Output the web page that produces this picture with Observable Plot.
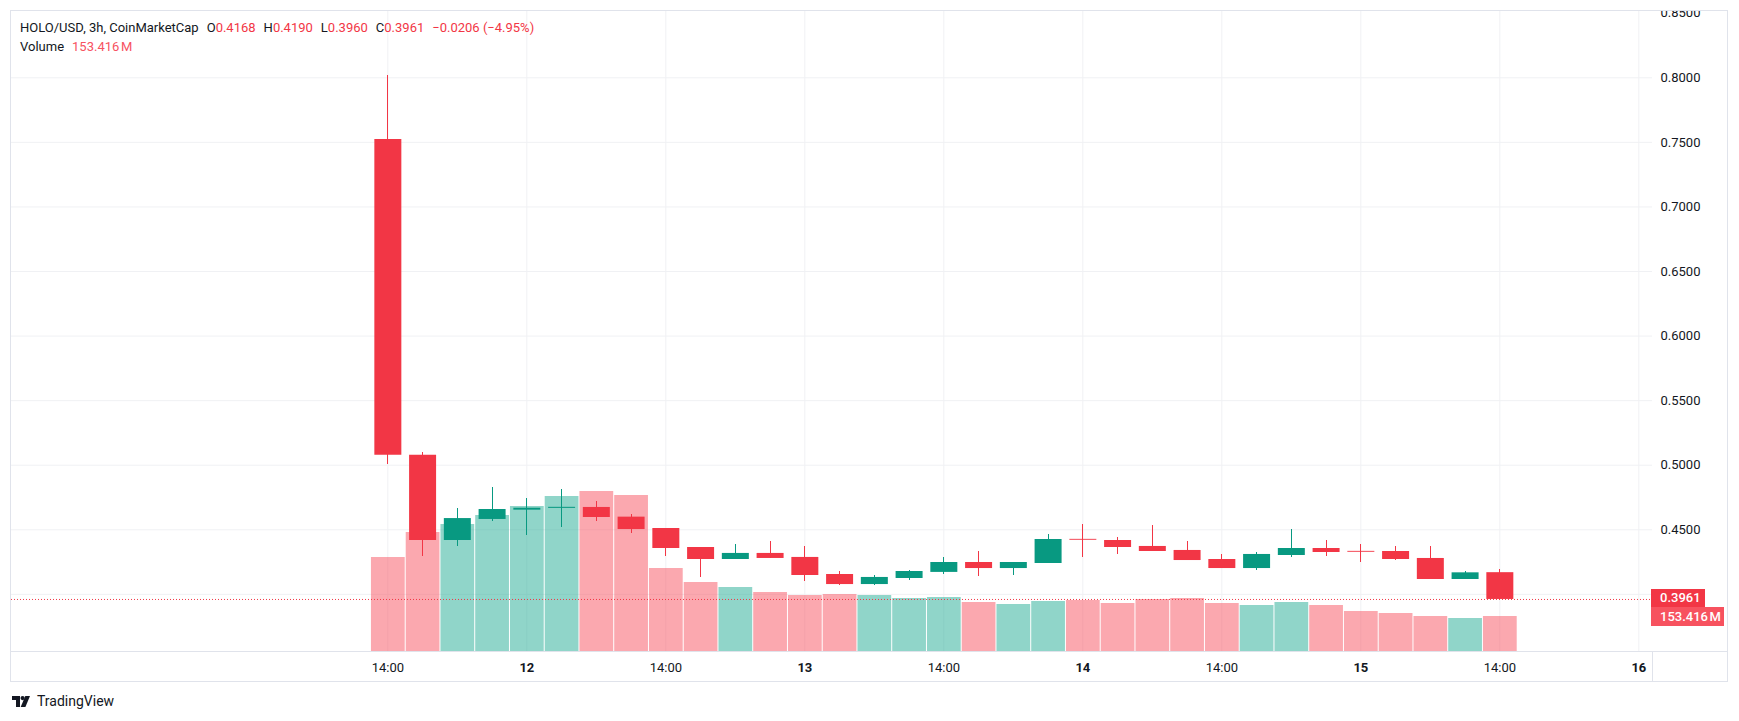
<!DOCTYPE html>
<html>
<head>
<meta charset="utf-8">
<script src="https://cdn.jsdelivr.net/npm/d3@7"></script>
<script src="https://cdn.jsdelivr.net/npm/@observablehq/plot@0.6"></script>
<style>
  body { margin: 0; background: #fff; font-family: Roboto, sans-serif; color: #131722; }
  #wrap { position: relative; width: 1739px; height: 690px; overflow: hidden; }
  .layer { position: absolute; left: 0; top: 11px; }
  .layer svg { overflow: hidden; display: block; }
  #frame { position: absolute; left: 10px; top: 10px; width: 1718px; height: 672px;
           box-sizing: border-box; border: 1px solid #e0e3eb; pointer-events: none; }
  .sep { position: absolute; background: #e0e3eb; }
  .legend { position: absolute; left: 20px; font-size: 13px; line-height: 18px; white-space: pre; }
  .legend .v { color: #F23645; }
  .legend .k { margin-left: 8px; }
  .tag { position: absolute; left: 1651px; color: #fff; font-size: 13px; font-weight: 500;
         padding-left: 9px; box-sizing: border-box; }
  #footer { position: relative; width: 1739px; height: 31px; }
  #logo { position: absolute; left: 12px; top: 3px; display: flex; align-items: center; gap: 7px;
          font-size: 14px; color: #131722; }
</style>
</head>
<body>
<div id="wrap">
  <div id="layers"></div>
  <div class="sep" style="left:11px; top:651px; width:1716px; height:1px;"></div>
  <div class="sep" style="left:1652px; top:651px; width:1px; height:30px;"></div>
  <div id="frame"></div>
  <div id="legend1" class="legend" style="top:19px;"></div>
  <div id="legend2" class="legend" style="top:38px;"></div>
</div>
<div id="footer">
  <div id="logo">
    <svg width="18" height="11" viewBox="0 0 18 11">
      <path d="M0 0H8V11H4V4H0Z" fill="#131722"/>
      <circle cx="10.6" cy="2.1" r="2.1" fill="#131722"/>
      <path d="M13.3 0H18L13.4 11H8.7Z" fill="#131722"/>
    </svg>
    <span>TradingView</span>
  </div>
</div>
<script>
// HOLO/USD 3h candles (CoinMarketCap), local time
const times = [
  "2025-09-11T14:00", "2025-09-11T17:00", "2025-09-11T20:00", "2025-09-11T23:00",
  "2025-09-12T02:00", "2025-09-12T05:00", "2025-09-12T08:00", "2025-09-12T11:00",
  "2025-09-12T14:00", "2025-09-12T17:00", "2025-09-12T20:00", "2025-09-12T23:00",
  "2025-09-13T02:00", "2025-09-13T05:00", "2025-09-13T08:00", "2025-09-13T11:00",
  "2025-09-13T14:00", "2025-09-13T17:00", "2025-09-13T20:00", "2025-09-13T23:00",
  "2025-09-14T02:00", "2025-09-14T05:00", "2025-09-14T08:00", "2025-09-14T11:00",
  "2025-09-14T14:00", "2025-09-14T17:00", "2025-09-14T20:00", "2025-09-14T23:00",
  "2025-09-15T02:00", "2025-09-15T05:00", "2025-09-15T08:00", "2025-09-15T11:00",
  "2025-09-15T14:00"
];
const open = [
  0.7522, 0.5078, 0.4417, 0.4580, 0.4652, 0.4666, 0.4673, 0.4598,
  0.4510, 0.4363, 0.4270, 0.4317, 0.4286, 0.4154, 0.4076, 0.4123,
  0.4170, 0.4247, 0.4200, 0.4239, 0.4426, 0.4417, 0.4371, 0.4340,
  0.4270, 0.4200, 0.4301, 0.4355, 0.4333, 0.4332, 0.4278, 0.4115,
  0.4168
];
const high = [
  0.8018, 0.5099, 0.4665, 0.4828, 0.4742, 0.4812, 0.4719, 0.4619,
  0.4512, 0.4365, 0.4387, 0.4410, 0.4371, 0.4177, 0.4146, 0.4185,
  0.4286, 0.4332, 0.4247, 0.4464, 0.4541, 0.4440, 0.4533, 0.4410,
  0.4309, 0.4324, 0.4502, 0.4417, 0.4387, 0.4371, 0.4371, 0.4177,
  0.4190
];
const low = [
  0.5008, 0.4293, 0.4371, 0.4564, 0.4458, 0.4518, 0.4564, 0.4471,
  0.4293, 0.4131, 0.4270, 0.4278, 0.4100, 0.4069, 0.4069, 0.4108,
  0.4154, 0.4139, 0.4146, 0.4239, 0.4286, 0.4309, 0.4332, 0.4262,
  0.4200, 0.4185, 0.4286, 0.4293, 0.4247, 0.4262, 0.4115, 0.4115,
  0.3960
];
const close = [
  0.5078, 0.4417, 0.4587, 0.4657, 0.4667, 0.4674, 0.4595, 0.4502,
  0.4355, 0.4270, 0.4317, 0.4278, 0.4146, 0.4076, 0.4131, 0.4177,
  0.4247, 0.4200, 0.4247, 0.4425, 0.4419, 0.4363, 0.4332, 0.4262,
  0.4200, 0.4309, 0.4355, 0.4324, 0.4326, 0.4270, 0.4115, 0.41668,
  0.39606
];
// volume, millions
const volume = [
  412, 522, 557, 596, 636, 680, 701, 684,
  364, 302, 281, 259, 245, 250, 245, 232,
  237, 215, 206, 219, 224, 210, 228, 232,
  210, 202, 215, 202, 175, 167, 153, 145,
  153.416
];
// time axis labels
const hourTickTimes = ["2025-09-11T14:00", "2025-09-12T14:00", "2025-09-13T14:00", "2025-09-14T14:00", "2025-09-15T14:00"];
const hourTickLabels = ["14:00", "14:00", "14:00", "14:00", "14:00"];
const dayTickTimes = ["2025-09-12T02:00", "2025-09-13T02:00", "2025-09-14T02:00", "2025-09-15T02:00", "2025-09-16T02:00"];
const dayTickLabels = ["12", "13", "14", "15", "16"];
// price axis
const priceTicks = [0.45, 0.50, 0.55, 0.60, 0.65, 0.70, 0.75, 0.80, 0.85];
const priceGrid = [0.40, 0.45, 0.50, 0.55, 0.60, 0.65, 0.70, 0.75, 0.80];

const UP = "#089981", DOWN = "#F23645", VOL_UP = "#22AB94", VOL_DOWN = "#F7525F";
const toDate = s => new Date(s + ":00Z");
const candles = times.map((s, i) => ({
  t: toDate(s), open: open[i], high: high[i], low: low[i], close: close[i],
  volume: volume[i], up: close[i] >= open[i]
}));
const last = candles[candles.length - 1];
const prev = candles[candles.length - 2];

const HOUR = 3600e3;
const t0 = candles[0].t.getTime();
const xDomain = [new Date(t0 - 32.49 * HOUR), new Date(t0 + 109.18 * HOUR)];

const hourTicks = hourTickTimes.map(toDate);
const dayTicks = dayTickTimes.map(toDate);
const tickLabel = new Map([
  ...hourTicks.map((d, i) => [+d, hourTickLabels[i]]),
  ...dayTicks.map((d, i) => [+d, dayTickLabels[i]])
]);

const common = {
  width: 1739, height: 679,
  marginTop: 0, marginLeft: 11, marginRight: 87, marginBottom: 39,
  x: {type: "utc", domain: xDomain},
  color: {type: "identity"},
  style: {fontFamily: "Roboto, sans-serif", fontSize: "13px", color: "#131722", background: "transparent"}
};
const priceY = {domain: [0.35576, 0.85134]};

// grid and axes
const base = Plot.plot({
  ...common, y: priceY,
  style: {...common.style, background: "white"},
  marks: [
    Plot.gridY(priceGrid, {stroke: "#f0f1f4", strokeOpacity: 1}),
    Plot.gridX([...hourTicks, ...dayTicks], {stroke: "#f0f1f4", strokeOpacity: 1}),
    Plot.axisY(priceTicks, {anchor: "right", tickSize: 0, tickPadding: 8, label: null,
      tickFormat: d => d.toFixed(4), fill: "#131722"}),
    Plot.axisX(hourTicks, {tickSize: 0, tickPadding: 11, label: null,
      tickFormat: d => tickLabel.get(+d), fill: "#131722"}),
    Plot.axisX(dayTicks, {tickSize: 0, tickPadding: 11, label: null, fontWeight: 700,
      tickFormat: d => tickLabel.get(+d), fill: "#131722"})
  ]
});

// volume histogram
const vol = Plot.plot({
  ...common, y: {domain: [0, 2806], axis: null}, x: {...common.x, axis: null},
  marks: [
    Plot.ruleX(candles, {x: "t", y1: 0, y2: "volume", strokeWidth: 33.75, strokeOpacity: 0.5,
      stroke: d => d.up ? VOL_UP : VOL_DOWN})
  ]
});

// candlesticks
const price = Plot.plot({
  ...common, y: {...priceY, axis: null}, x: {...common.x, axis: null},
  marks: [
    Plot.ruleY([last.close], {stroke: DOWN, strokeWidth: 1, strokeDasharray: "1,2"}),
    Plot.ruleX(candles, {x: "t", y1: "low", y2: "high", strokeWidth: 1, shapeRendering: "crispEdges",
      stroke: d => d.up ? UP : DOWN}),
    Plot.ruleX(candles, {x: "t", y1: "open", y2: "close", strokeWidth: 27,
      stroke: d => d.up ? UP : DOWN})
  ]
});

const layers = document.getElementById("layers");
for (const p of [base, vol, price]) {
  const d = document.createElement("div");
  d.className = "layer";
  d.appendChild(p);
  layers.appendChild(d);
}

// last price and volume tags on the price scale
const yLast = 11 + price.scale("y").apply(last.close);
const wrap = document.getElementById("wrap");
const tagP = document.createElement("div");
tagP.className = "tag";
Object.assign(tagP.style, {top: (yLast - 9.5) + "px", width: "54px", height: "18px", lineHeight: "18px", background: DOWN});
tagP.textContent = last.close.toFixed(4);
wrap.appendChild(tagP);
const tagV = document.createElement("div");
tagV.className = "tag";
Object.assign(tagV.style, {top: (yLast + 8.5) + "px", width: "73px", height: "19px", lineHeight: "19px", background: VOL_DOWN});
tagV.textContent = last.volume.toFixed(3) + "\u202FM";
wrap.appendChild(tagV);

// legend
const minus = v => (v < 0 ? "\u2212" : "+") + Math.abs(v).toFixed(4);
const chg = last.close - prev.close;
const pct = chg / prev.close * 100;
document.getElementById("legend1").innerHTML =
  `HOLO/USD, 3h, CoinMarketCap` +
  `<span class="k">O</span><span class="v">${last.open.toFixed(4)}</span>` +
  `<span class="k">H</span><span class="v">${last.high.toFixed(4)}</span>` +
  `<span class="k">L</span><span class="v">${last.low.toFixed(4)}</span>` +
  `<span class="k">C</span><span class="v">${last.close.toFixed(4)}</span>` +
  `<span class="k v">${minus(chg)} (${pct < 0 ? "\u2212" : "+"}${Math.abs(pct).toFixed(2)}%)</span>`;
document.getElementById("legend2").innerHTML =
  `Volume<span class="k" style="color:${VOL_DOWN}">${last.volume.toFixed(3)}\u202FM</span>`;
</script>
</body>
</html>
